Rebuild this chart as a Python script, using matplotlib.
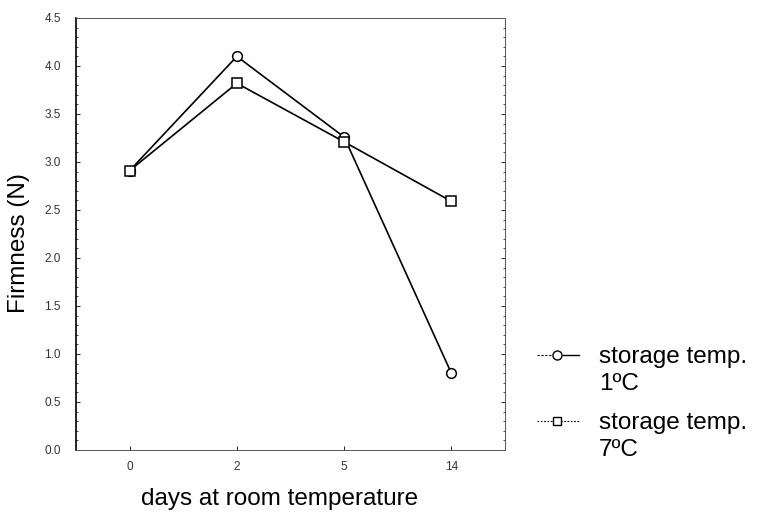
import matplotlib
matplotlib.use("Agg")
import matplotlib.pyplot as plt
from matplotlib.lines import Line2D
from matplotlib.ticker import MultipleLocator

plt.rcParams["font.family"] = ["Liberation Sans", "DejaVu Sans"]

W, H = 757, 513

days = ["0", "2", "5", "14"]
firm_1c = [2.91, 4.10, 3.26, 0.80]
firm_7c = [2.91, 3.82, 3.21, 2.59]
yticks = [0.0, 0.5, 1.0, 1.5, 2.0, 2.5, 3.0, 3.5, 4.0, 4.5]


def px(x, y):
    # pixel coords (top-left origin) -> figure fraction
    return x / W, 1 - y / H


fig = plt.figure(figsize=(W / 100, H / 100), dpi=100, facecolor="white")
ax = fig.add_axes([76 / W, 1 - 450 / H, 429 / W, 432 / H])

pos = list(range(len(days)))
ax.plot(pos, firm_1c, color="black", lw=1.2, marker="o", ms=7,
        mfc="white", mec="black", mew=1.1, zorder=3)
ax.plot(pos, firm_7c, color="black", lw=1.2, marker="s", ms=6.5,
        mfc="white", mec="black", mew=1.1, zorder=4)

ax.set_xlim(-0.5, 3.5)
ax.set_ylim(0, 4.5)
ax.set_xticks(pos)
ax.set_xticklabels(days)
ax.set_yticks(yticks)
ax.set_yticklabels([f"{v:.1f}" for v in yticks])
ax.yaxis.set_minor_locator(MultipleLocator(0.1))
ax.tick_params(axis="both", which="major", direction="in", length=3, width=0.6,
               labelsize=8.5, labelcolor="#333333", right=True)
ax.tick_params(axis="y", which="minor", direction="in", length=1.5, width=0.5, right=True)
ax.tick_params(axis="y", which="major", pad=11)
ax.tick_params(axis="x", which="major", pad=8)

for side in ["top", "right", "bottom"]:
    ax.spines[side].set_linewidth(0.7)
    ax.spines[side].set_color("#555555")
ax.spines["left"].set_linewidth(1.2)
ax.spines["left"].set_color("black")

fig.text(*px(280, 499), "days at room temperature", fontsize=17.5, ha="center", va="center")
fig.text(*px(19, 243), "Firmness (N)", fontsize=17.5, rotation=90, ha="center", va="center")

# legend drawn by hand
y1, y2 = 355, 421
fig.add_artist(Line2D([537 / W, 551 / W], [px(0, y1)[1]] * 2, transform=fig.transFigure,
                      color="black", lw=0.8, ls=(0, (2, 1.5))))
fig.add_artist(Line2D([563 / W, 579 / W], [px(0, y1)[1]] * 2, transform=fig.transFigure,
                      color="black", lw=1.0))
fig.add_artist(Line2D([557 / W], [px(0, y1)[1]], transform=fig.transFigure, marker="o",
                      ms=6.5, mfc="white", mec="black", mew=1.0, ls="none"))
fig.add_artist(Line2D([537 / W, 579 / W], [px(0, y2)[1]] * 2, transform=fig.transFigure,
                      color="black", lw=0.8, ls=(0, (1.5, 1.5))))
fig.add_artist(Line2D([557 / W], [px(0, y2)[1]], transform=fig.transFigure, marker="s",
                      ms=6, mfc="white", mec="black", mew=1.0, ls="none"))

fig.text(*px(599, 357), "storage temp.", fontsize=17.5, ha="left", va="center")
fig.text(*px(599, 384), "1\u00baC", fontsize=17.5, ha="left", va="center")
fig.text(*px(599, 423), "storage temp.", fontsize=17.5, ha="left", va="center")
fig.text(*px(599, 450), "7\u00baC", fontsize=17.5, ha="left", va="center")

fig.savefig("out.png", dpi=100, facecolor="white")
